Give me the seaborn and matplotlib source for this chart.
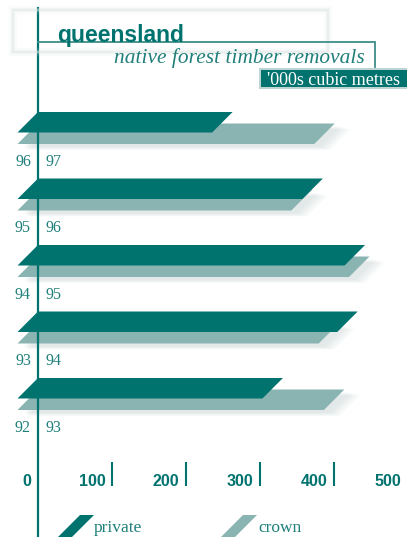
import numpy as np
import pandas as pd
import matplotlib
matplotlib.use("Agg")
import matplotlib.pyplot as plt
import seaborn as sns
from matplotlib.patches import Polygon, Rectangle
from matplotlib.colors import to_rgb

# ---- data ----
periods = ["96 97", "95 96", "94 95", "93 94", "92 93"]
private = [263, 385, 442, 432, 331]
crown = [401, 370, 448, 407, 414]
series = ["private", "crown"]
xticks = [0, 100, 200, 300, 400, 500]
title = "queensland"
subtitle = "native forest timber removals"
unit = "'000s cubic metres"

TEAL = "#00736f"
CROWN = "#89b4b1"
TXT = "#1f7f7a"

df = pd.DataFrame({
    "period": periods * 2,
    "series": [series[0]] * len(periods) + [series[1]] * len(periods),
    "value": private + crown,
})

W, H = 407, 537
fig = plt.figure(figsize=(W / 100, H / 100), dpi=100)
fig.patch.set_facecolor("white")
ax = fig.add_axes([0, 0, 1, 1])

sns.barplot(data=df, x="value", y="period", hue="series", hue_order=series,
            order=periods, palette=[TEAL, CROWN], orient="h", width=0.346,
            dodge=True, legend=False, errorbar=None, saturation=1, ax=ax)

XL = (-38 / 0.74, (W - 38) / 0.74)
YL = ((H - 128) / 66.5, -128 / 66.5)
ax.set_xlim(*XL)
ax.set_ylim(*YL)
ax.axis("off")

px_x = W / (XL[1] - XL[0])
px_y = H / (YL[0] - YL[1])

bar_h = 20.5 / px_y
teal_rgb = np.array(to_rgb(TEAL))
rects = list(ax.patches)
for p in rects:
    x0, y0, w, h = p.get_x(), p.get_y(), p.get_width(), p.get_height()
    cy = y0 + h / 2
    is_private = np.allclose(np.array(p.get_facecolor()[:3]), teal_rgb, atol=0.03)
    p.remove()
    top, bot = cy - bar_h / 2, cy + bar_h / 2
    dx = bar_h * px_y / px_x
    verts = [(x0, top), (x0 + w, top), (x0 + w - dx, bot), (x0 - dx, bot)]
    if not is_private:
        for k in range(6):
            ox, oy = (6 + k) / px_x, (3 + k * 0.6) / px_y
            sv = [(vx + ox + (k if i in (1, 2) else 0) / px_x, vy + oy)
                  for i, (vx, vy) in enumerate(verts)]
            ax.add_patch(Polygon(sv, closed=True, facecolor="#7d9997",
                                 edgecolor="none", alpha=0.035, zorder=1))
    ax.add_patch(Polygon(verts, closed=True,
                         facecolor=TEAL if is_private else CROWN,
                         edgecolor="none", zorder=4 if is_private else 3))

# axis line
ax.axvline(0, ymin=0, ymax=1 - 8 / H, color=TEAL, lw=1.6, zorder=5)

# category labels
for i, per in enumerate(periods):
    a, b = per.split()
    ax.text(-9.5, i + 0.51, a, ha="right", va="center", color=TXT,
            fontsize=11.5, family="Liberation Serif", zorder=6)
    ax.text(9.5, i + 0.51, b, ha="left", va="center", color=TXT,
            fontsize=11.5, family="Liberation Serif", zorder=6)

# x tick labels and tick marks
ylab = (482 - 128) / 66.5
for v in xticks:
    ax.text(v - 9, ylab, str(v), ha="right", va="center", color=TEAL,
            fontsize=11.5, fontweight="bold", family="Liberation Sans")
ax.vlines(xticks[1:-1], (462 - 128) / 66.5, (486 - 128) / 66.5, color=TEAL, lw=1.5)

# ---- decorations in pixel space ----
dec = fig.add_axes([0, 0, 1, 1], zorder=10)
dec.set_xlim(0, W)
dec.set_ylim(H, 0)
dec.axis("off")
dec.patch.set_alpha(0)

for lw, al in [(6, 0.12), (3, 0.25), (1.2, 0.45)]:
    dec.add_patch(Rectangle((13, 10), 315, 42, fill=False, edgecolor="#dde6e5",
                            lw=lw, alpha=al))
dec.plot([38, 375, 375], [42.3, 42.3, 67], color="#3f8e8a", lw=1.3,
         solid_joinstyle="miter")
dec.text(57, 42, title, ha="left", va="baseline", color=TEAL, fontsize=16.5,
         fontweight="bold", family="Liberation Sans")
dec.text(365, 63, subtitle, ha="right", va="baseline", color=TXT, fontsize=15.4,
         style="italic", family="Liberation Serif")
dec.add_patch(Rectangle((259, 68), 150, 21, facecolor="#bcd5d3", edgecolor="none"))
dec.add_patch(Rectangle((261, 70), 148, 17, facecolor=TEAL, edgecolor="none"))
dec.text(267, 85, unit, ha="left", va="baseline", color="white", fontsize=13,
         family="Liberation Serif")

# legend
for (x_top, name, col, xt) in [(80, series[0], TEAL, 94), (243, series[1], CROWN, 258)]:
    dec.add_patch(Polygon([(x_top, 515), (x_top + 14, 515), (x_top + 14 - 27, 542),
                           (x_top - 27, 542)], closed=True, facecolor=col,
                          edgecolor="none"))
    dec.text(xt, 532.5, name, ha="left", va="baseline", color=TXT, fontsize=12.5,
             family="Liberation Serif")

fig.savefig("out.png", dpi=100, facecolor="white")
